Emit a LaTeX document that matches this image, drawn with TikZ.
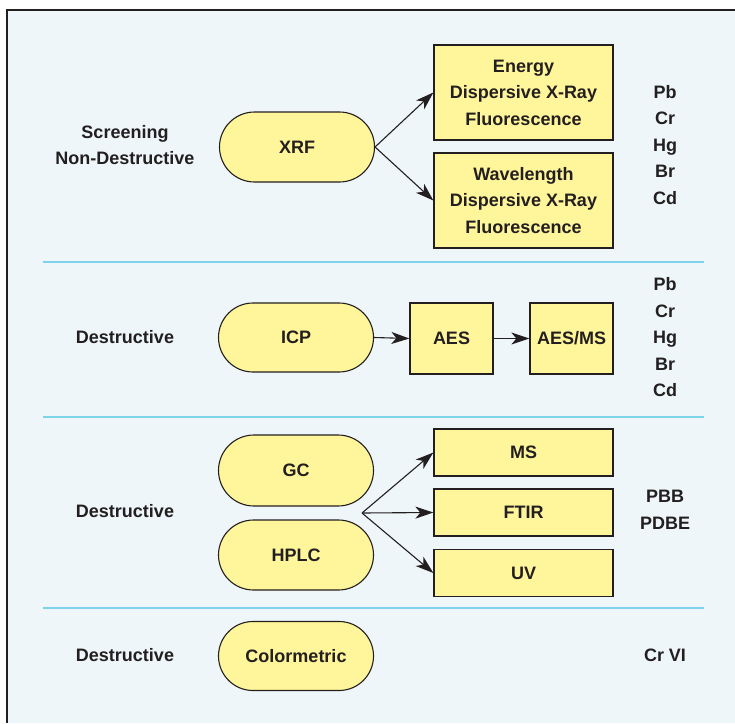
\documentclass[tikz,border=0pt]{standalone}
\usepackage{fontspec}
\setmainfont{Liberation Sans}
\usetikzlibrary{arrows.meta}
\definecolor{bgblue}{HTML}{EEF6FA}
\definecolor{sepline}{HTML}{7DD3EA}
\definecolor{boxfill}{HTML}{FFF59A}
\definecolor{ink}{HTML}{231F20}
\tikzset{
  txt/.style={font=\fontsize{18}{26.5}\selectfont\bfseries, text=ink, align=center, inner sep=0pt},
  pill/.style={txt, draw=ink, line width=1.1pt, fill=boxfill, rounded corners=34.5pt, minimum width=155pt, minimum height=69pt},
  sqbox/.style={txt, draw=ink, line width=1.3pt, fill=boxfill, minimum width=179pt},
  conn/.style={draw=ink, line width=1.1pt, -{Stealth[length=18pt,width=12pt,inset=5pt]}},
  sep/.style={draw=sepline, line width=1.8pt}
}
\begin{document}
\begin{tikzpicture}[x=1pt,y=-1pt]
\useasboundingbox (0,0) rectangle (735,723);
\fill[bgblue] (7,10) rectangle (735,723);
\draw[ink, line width=1.2pt] (7,723) -- (7,10) -- (735,10);
% separators
\coordinate (s1a) at (43,262); \coordinate (s1b) at (704,262);
\coordinate (s2a) at (43,417); \coordinate (s2b) at (704,417);
\coordinate (s3a) at (43,608); \coordinate (s3b) at (704,608);
\draw[sep] (s1a) -- (s1b);
\draw[sep] (s2a) -- (s2b);
\draw[sep] (s3a) -- (s3b);
% section 1
\node[txt] (lab1) at (125,145) {Screening\\Non-Destructive};
\node[pill, minimum height=70pt, rounded corners=35pt] (xrf) at (297,147) {XRF};
\node[sqbox, minimum height=95pt] (edx) at (523.5,92.5) {Energy\\Dispersive X-Ray\\Fluorescence};
\node[sqbox, minimum height=95pt] (wdx) at (523.5,200.5) {Wavelength\\Dispersive X-Ray\\Fluorescence};
\node[txt] (el1) at (665,145) {Pb\\Cr\\Hg\\Br\\Cd};
\draw[conn] (xrf.east) -- (edx.west);
\draw[conn] (xrf.east) -- (wdx.west);
% section 2
\node[txt] (lab2) at (125,337.5) {Destructive};
\node[pill] (icp) at (296,337.5) {ICP};
\node[sqbox, minimum width=83pt, minimum height=71pt] (aes) at (451.5,338.5) {AES};
\node[sqbox, minimum width=83pt, minimum height=71pt] (aesms) at (571.5,338.5) {AES/MS};
\node[txt] (el2) at (665,337.5) {Pb\\Cr\\Hg\\Br\\Cd};
\draw[conn] (icp.east) -- (aes.west);
\draw[conn] (aes.east) -- (aesms.west);
% section 3
\node[txt] (lab3) at (125,511) {Destructive};
\node[pill, minimum height=71pt, rounded corners=35.5pt] (gc) at (296,470.5) {GC};
\node[pill, minimum height=70pt, rounded corners=35pt] (hplc) at (296,555) {HPLC};
\node[sqbox, minimum height=47pt] (ms) at (523.5,452.5) {MS};
\node[sqbox, minimum height=47pt] (ftir) at (523.5,512.5) {FTIR};
\node[sqbox, minimum height=47pt] (uv) at (523.5,573) {UV};
\node[txt] (el3) at (665,510) {PBB\\PDBE};
\coordinate (br) at (362,513);
\draw[conn] (br) -- (ms.west);
\draw[conn] (br) -- (ftir.west);
\draw[conn] (br) -- (uv.west);
% section 4
\node[txt] (lab4) at (125,655.5) {Destructive};
\node[pill] (col) at (296,656) {Colormetric};
\node[txt] (el4) at (665,655.5) {Cr VI};
\end{tikzpicture}
\end{document}
